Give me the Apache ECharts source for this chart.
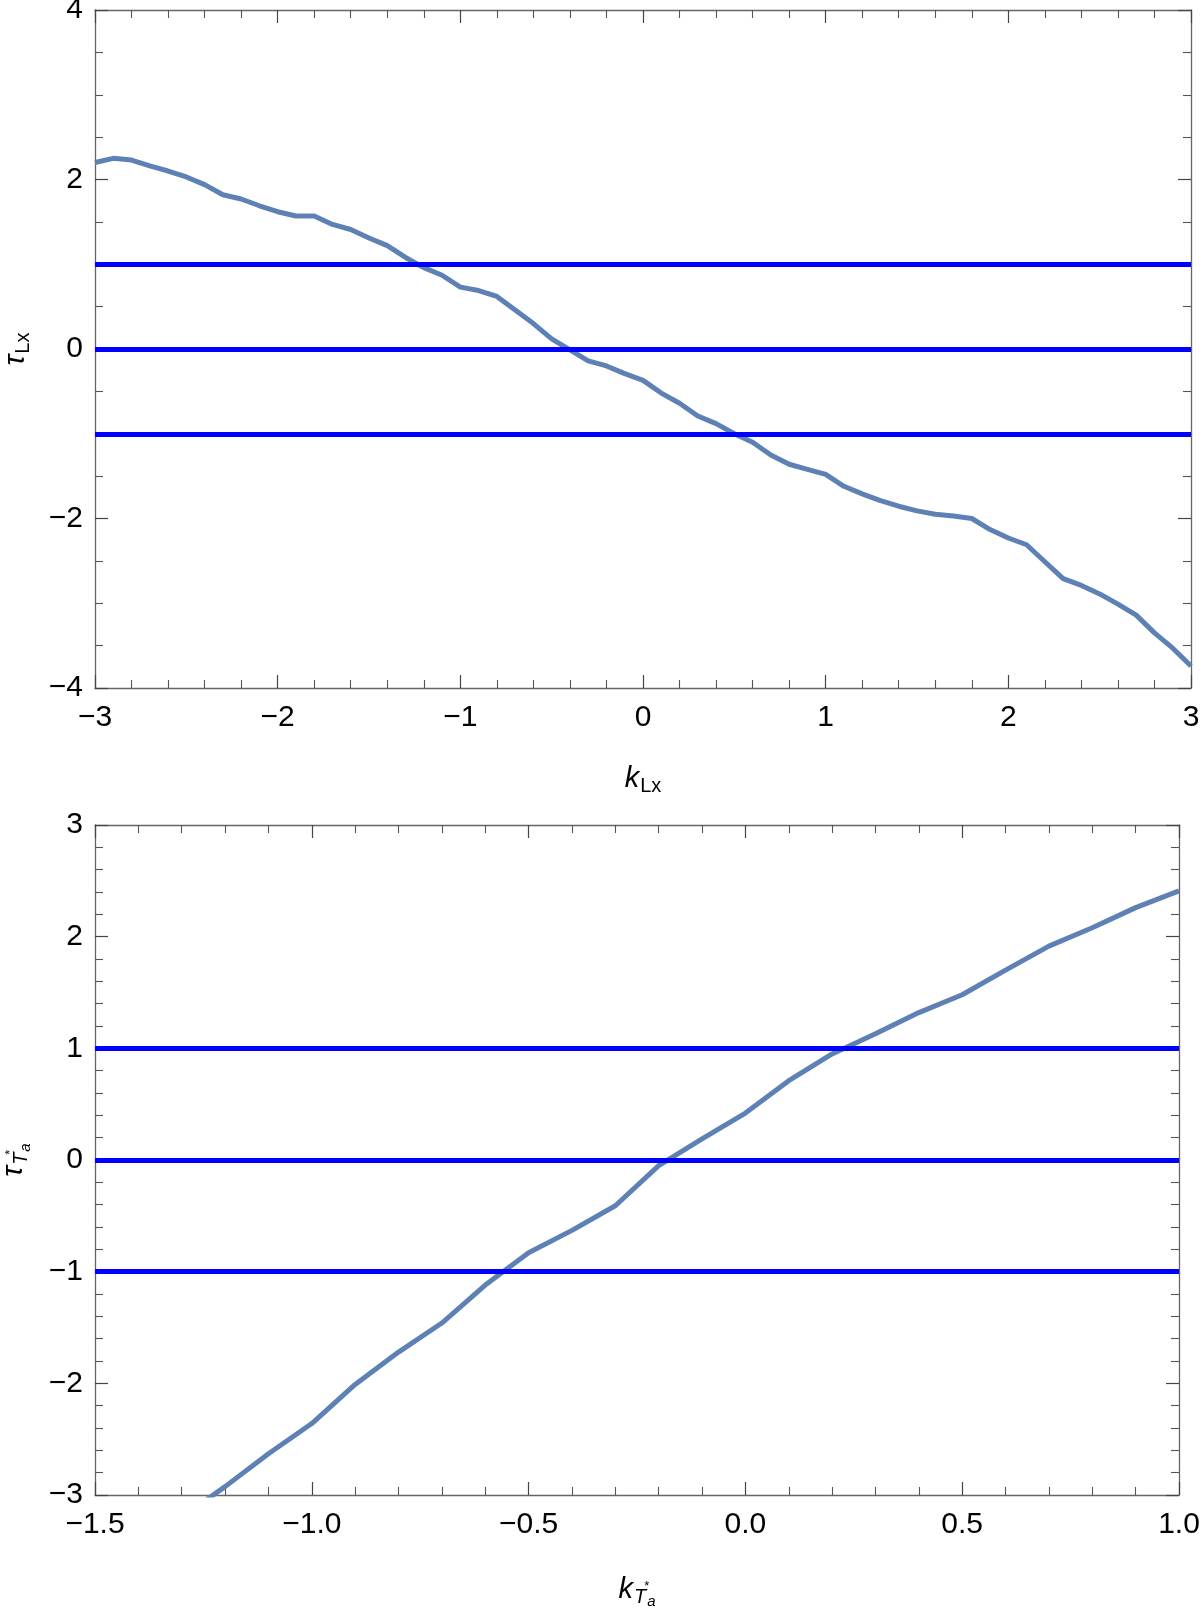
<!DOCTYPE html>
<html>
<head>
<meta charset="utf-8">
<script src="https://cdn.jsdelivr.net/npm/echarts@6/dist/echarts.min.js"></script>
<style>
html,body{margin:0;padding:0;background:#fff;}
#chart{width:1200px;height:1608px;}
</style>
</head>
<body>
<div id="chart"></div>
<script>
// ---------- DATA ----------
const topK = [-3.0,-2.9,-2.8,-2.7,-2.6,-2.5,-2.4,-2.3,-2.2,-2.1,-2.0,-1.9,-1.8,-1.7,-1.6,-1.5,-1.4,-1.3,-1.2,-1.1,-1.0,-0.9,-0.8,-0.7,-0.6,-0.5,-0.4,-0.3,-0.2,-0.1,0.0,0.1,0.2,0.3,0.4,0.5,0.6,0.7,0.8,0.9,1.0,1.1,1.2,1.3,1.4,1.5,1.6,1.7,1.8,1.9,2.0,2.1,2.2,2.3,2.4,2.5,2.6,2.7,2.8,2.9,3.0];
const topTau = [2.20,2.25,2.23,2.16,2.10,2.03,1.94,1.82,1.77,1.69,1.62,1.57,1.57,1.47,1.41,1.31,1.22,1.08,0.96,0.87,0.73,0.69,0.62,0.46,0.30,0.12,-0.01,-0.14,-0.20,-0.29,-0.37,-0.52,-0.64,-0.79,-0.88,-1.00,-1.10,-1.25,-1.36,-1.42,-1.48,-1.62,-1.71,-1.79,-1.855,-1.91,-1.95,-1.97,-2.00,-2.13,-2.23,-2.31,-2.51,-2.71,-2.79,-2.89,-3.01,-3.14,-3.35,-3.53,-3.74];

const botK = [-1.3,-1.2,-1.1,-1.0,-0.9,-0.8,-0.7,-0.6,-0.5,-0.4,-0.3,-0.2,-0.1,0.0,0.1,0.2,0.3,0.4,0.5,0.6,0.7,0.8,0.9,1.0];
const botTau = [-3.20,-2.925,-2.63,-2.36,-2.01,-1.72,-1.46,-1.12,-0.83,-0.63,-0.41,-0.05,0.19,0.42,0.71,0.95,1.13,1.32,1.48,1.70,1.915,2.08,2.26,2.41];

const refLevels = [-1, 0, 1];

const topXTicks = ['\u22123','\u22122','\u22121','0','1','2','3'];
const topYTicks = ['\u22124','\u22122','0','2','4'];
const botXTicks = ['\u22121.5','\u22121.0','\u22120.5','0.0','0.5','1.0'];
const botYTicks = ['\u22123','\u22122','\u22121','0','1','2','3'];

// ---------- STYLE ----------
const FONT = 'Liberation Sans';
const AX = '#666666';
const CURVE = '#5E81B5';
const REF = '#0000FF';

function lab(arr, min, step) {
  return function (v) {
    const i = Math.round((v - min) / step);
    return arr[i] !== undefined ? arr[i] : '';
  };
}

function axisCommon(min, max, interval, minorSplit, showLabel, labels, extra, isX) {
  return Object.assign({
    type: 'value', min: min, max: max, interval: interval,
    axisLine: { show: true, onZero: false, lineStyle: { color: AX, width: 1.3 } },
    axisTick: { show: true, inside: true, length: 13, lineStyle: { color: '#444', width: 1.2 } },
    minorTick: { show: true, splitNumber: minorSplit, length: 8, lineStyle: { color: '#555', width: 1.1 } },
    splitLine: { show: false },
    minorSplitLine: { show: false },
    axisLabel: {
      show: showLabel, color: '#000', fontFamily: FONT, fontSize: 30, margin: isX ? 15 : 12,
      formatter: lab(labels, min, interval)
    }
  }, extra || {});
}

const nameRich = {
  m: { fontFamily: FONT, fontStyle: 'italic', fontSize: 29, color: '#000' },
  s: { fontFamily: FONT, fontSize: 20, color: '#000', padding: [14, 0, 0, 1] },
  si: { fontFamily: FONT, fontStyle: 'italic', fontSize: 20, color: '#000', padding: [14, 0, 0, 1] },
  st: { fontFamily: FONT, fontSize: 13, color: '#000', padding: [0, 0, 8, 0], width: 1 },
  sa: { fontFamily: FONT, fontStyle: 'italic', fontSize: 15, color: '#000', padding: [23, 0, 0, 0] }
};

const option = {
  backgroundColor: '#ffffff',
  animation: false,
  grid: [
    { left: 95, top: 10, width: 1096, height: 678, outerBoundsMode: 'none', containLabel: false },
    { left: 95, top: 825, width: 1084, height: 670, outerBoundsMode: 'none', containLabel: false }
  ],
  xAxis: [
    axisCommon(-3, 3, 1, 5, true, topXTicks, {
      gridIndex: 0, position: 'bottom',
      name: '{m|k}{s|Lx}', nameLocation: 'middle', nameGap: 74,
      nameTextStyle: { rich: nameRich }
    }, true),
    axisCommon(-3, 3, 1, 5, false, topXTicks, { gridIndex: 0, position: 'top' }, true),
    axisCommon(-1.5, 1.0, 0.5, 5, true, botXTicks, {
      gridIndex: 1, position: 'bottom',
      name: '{m|k}{si|T}{st|*}{sa|a}', nameLocation: 'middle', nameGap: 76,
      nameTextStyle: { rich: nameRich }
    }, true),
    axisCommon(-1.5, 1.0, 0.5, 5, false, botXTicks, { gridIndex: 1, position: 'top' }, true)
  ],
  yAxis: [
    axisCommon(-4, 4, 2, 4, true, topYTicks, {
      gridIndex: 0, position: 'left',
      name: '{m|\u03C4}{s|Lx}', nameLocation: 'middle', nameGap: 62, nameRotate: 90,
      nameTextStyle: { rich: nameRich }
    }, false),
    axisCommon(-4, 4, 2, 4, false, topYTicks, { gridIndex: 0, position: 'right' }, false),
    axisCommon(-3, 3, 1, 5, true, botYTicks, {
      gridIndex: 1, position: 'left',
      name: '{m|\u03C4}{si|T}{st|*}{sa|a}', nameLocation: 'middle', nameGap: 62, nameRotate: 90,
      nameTextStyle: { rich: nameRich }
    }, false),
    axisCommon(-3, 3, 1, 5, false, botYTicks, { gridIndex: 1, position: 'right' }, false)
  ],
  series: []
};

function refMark() {
  return {
    silent: true, symbol: ['none', 'none'], label: { show: false },
    lineStyle: { color: REF, width: 5, type: 'solid' },
    data: refLevels.map(function (v) { return { yAxis: v }; })
  };
}

option.series.push({
  type: 'line', xAxisIndex: 0, yAxisIndex: 0, showSymbol: false, clip: true,
  lineStyle: { color: CURVE, width: 5 }, z: 2,
  data: topK.map(function (k, i) { return [k, topTau[i]]; })
});
option.series.push({
  type: 'line', xAxisIndex: 0, yAxisIndex: 0, showSymbol: false, z: 3,
  data: [], markLine: refMark()
});
option.series.push({
  type: 'line', xAxisIndex: 2, yAxisIndex: 2, showSymbol: false, clip: true,
  lineStyle: { color: CURVE, width: 5 }, z: 2,
  data: botK.map(function (k, i) { return [k, botTau[i]]; })
});
option.series.push({
  type: 'line', xAxisIndex: 2, yAxisIndex: 2, showSymbol: false, z: 3,
  data: [], markLine: refMark()
});

const chart = echarts.init(document.getElementById('chart'), null, { renderer: 'canvas' });
chart.setOption(option);
</script>
</body>
</html>
